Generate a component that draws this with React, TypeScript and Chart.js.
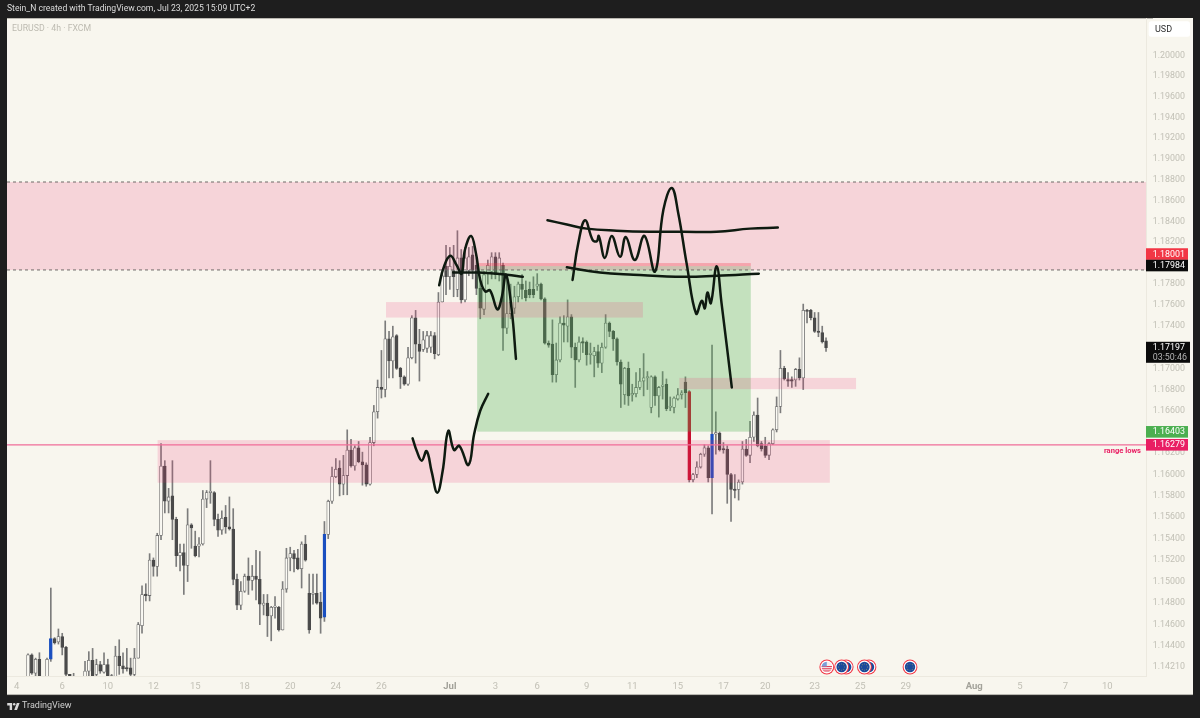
import React, { useEffect, useRef } from "react";
import { Chart, registerables } from "chart.js";

Chart.register(...registerables);

const opens = [
1.1400,1.1432,1.1415,1.1428,1.1405,1.1405,1.1428,1.1447,1.1444,1.1449,
1.1439,1.1414,1.1405,1.1405,1.1398,1.1402,1.1417,1.1427,1.1414,1.1423,
1.1416,1.1423,1.1408,1.1412,1.1431,1.1422,1.1420,1.1420,1.1414,1.1429,
1.1459,1.1488,1.1487,1.1520,1.1514,1.1543,1.1608,1.1575,1.1580,1.1558,
1.1524,1.1527,1.1515,1.1553,1.1533,1.1533,1.1535,1.1577,1.1583,1.1583,
1.1558,1.1548,1.1560,1.1551,1.1549,1.1502,1.1478,1.1491,1.1505,1.1501,
1.1505,1.1502,1.1478,1.1480,1.1468,1.1476,1.1476,1.1455,1.1493,1.1522,
1.1526,1.1522,1.1512,1.1535,1.1489,1.1488,1.1489,1.1481,1.1467,1.1544,
1.1575,1.1598,1.1606,1.1591,1.1599,1.1623,1.1608,1.1625,1.1612,1.1609,
1.1591,1.1630,1.1659,1.1682,1.1680,1.1728,1.1707,1.1731,1.1700,1.1692,
1.1685,1.1710,1.1748,1.1723,1.1718,1.1719,1.1720,1.1731,1.1713,1.1763,
1.1797,1.1787,1.1793,1.1775,1.1805,1.1765,1.1793,1.1808,1.1798,1.1776,
1.1756,1.1790,1.1792,1.1806,1.1789,1.1798,1.1738,1.1752,1.1757,1.1768,
1.1780,1.1774,1.1775,1.1775,1.1778,1.1780,1.1766,1.1724,1.1723,1.1694,
1.1708,1.1743,1.1740,1.1749,1.1720,1.1708,1.1725,1.1725,1.1713,1.1712,
1.1716,1.1705,1.1720,1.1743,1.1735,1.1728,1.1706,1.1675,1.1700,1.1675,
1.1676,1.1682,1.1688,1.1691,1.1663,1.1692,1.1674,1.1683,1.1685,1.1663,
1.1663,1.1671,1.1675,1.1687,1.1678,1.1595,1.1600,1.1607,1.1619,1.1625,
1.1597,1.1638,1.1639,1.1624,1.1624,1.1600,1.1586,1.1586,1.1593,1.1624,
1.1618,1.1635,1.1656,1.1629,1.1627,1.1618,1.1629,1.1642,1.1664,1.1700,
1.1689,1.1689,1.1689,1.1699,1.1691,1.1755,1.1755,1.1748,1.1735,1.1734,1.1726,
];
const highs = [
1.1433,1.1433,1.1429,1.1434,1.1409,1.1429,1.1494,1.1448,1.1456,1.1452,
1.1440,1.1414,1.1415,1.1408,1.1408,1.1426,1.1435,1.1438,1.1428,1.1426,
1.1434,1.1428,1.1414,1.1440,1.1446,1.1434,1.1438,1.1429,1.1438,1.1462,
1.1496,1.1498,1.1526,1.1522,1.1545,1.1629,1.1613,1.1587,1.1613,1.1560,
1.1535,1.1535,1.1568,1.1554,1.1547,1.1541,1.1585,1.1585,1.1613,1.1584,
1.1563,1.1566,1.1571,1.1579,1.1568,1.1507,1.1500,1.1507,1.1522,1.1515,
1.1529,1.1528,1.1488,1.1488,1.1477,1.1486,1.1477,1.1500,1.1531,1.1532,
1.1529,1.1530,1.1537,1.1543,1.1507,1.1507,1.1507,1.1490,1.1556,1.1576,
1.1607,1.1615,1.1613,1.1618,1.1642,1.1633,1.1627,1.1631,1.1621,1.1611,
1.1635,1.1665,1.1689,1.1717,1.1745,1.1735,1.1740,1.1732,1.1701,1.1693,
1.1720,1.1750,1.1755,1.1737,1.1735,1.1735,1.1735,1.1734,1.1772,1.1790,
1.1817,1.1815,1.1817,1.1831,1.1813,1.1815,1.1815,1.1816,1.1805,1.1784,
1.1792,1.1803,1.1810,1.1810,1.1810,1.1800,1.1789,1.1780,1.1778,1.1782,
1.1789,1.1783,1.1782,1.1787,1.1790,1.1781,1.1767,1.1726,1.1746,1.1724,
1.1749,1.1750,1.1765,1.1751,1.1724,1.1730,1.1729,1.1726,1.1724,1.1720,
1.1722,1.1724,1.1751,1.1744,1.1736,1.1729,1.1708,1.1701,1.1706,1.1685,
1.1696,1.1700,1.1714,1.1697,1.1693,1.1693,1.1683,1.1697,1.1690,1.1673,
1.1673,1.1681,1.1679,1.1692,1.1679,1.1601,1.1612,1.1620,1.1628,1.1627,
1.1722,1.1659,1.1640,1.1630,1.1627,1.1601,1.1600,1.1595,1.1631,1.1633,
1.1650,1.1659,1.1672,1.1631,1.1635,1.1630,1.1643,1.1673,1.1717,1.1702,
1.1696,1.1692,1.1700,1.1710,1.1761,1.1756,1.1756,1.1753,1.1753,1.1740,1.1729,
];
const lows = [
1.1395,1.1414,1.1409,1.1404,1.1395,1.1400,1.1426,1.1442,1.1442,1.1432,
1.1412,1.1407,1.1400,1.1395,1.1394,1.1398,1.1411,1.1403,1.1409,1.1415,
1.1415,1.1405,1.1402,1.1405,1.1414,1.1415,1.1417,1.1410,1.1409,1.1429,
1.1452,1.1482,1.1482,1.1505,1.1505,1.1539,1.1564,1.1564,1.1539,1.1514,
1.1510,1.1488,1.1500,1.1531,1.1523,1.1523,1.1534,1.1569,1.1573,1.1552,
1.1542,1.1544,1.1545,1.1548,1.1497,1.1474,1.1474,1.1490,1.1488,1.1492,
1.1483,1.1460,1.1469,1.1449,1.1445,1.1466,1.1454,1.1455,1.1490,1.1510,
1.1509,1.1511,1.1494,1.1519,1.1452,1.1479,1.1479,1.1452,1.1463,1.1540,
1.1573,1.1597,1.1580,1.1581,1.1581,1.1607,1.1604,1.1611,1.1590,1.1589,
1.1590,1.1627,1.1653,1.1672,1.1673,1.1691,1.1691,1.1699,1.1681,1.1684,
1.1684,1.1709,1.1705,1.1688,1.1716,1.1715,1.1715,1.1709,1.1712,1.1763,
1.1770,1.1775,1.1768,1.1768,1.1762,1.1763,1.1788,1.1785,1.1770,1.1747,
1.1751,1.1780,1.1785,1.1785,1.1783,1.1717,1.1733,1.1747,1.1752,1.1763,
1.1766,1.1764,1.1767,1.1767,1.1774,1.1765,1.1723,1.1720,1.1687,1.1687,
1.1706,1.1725,1.1725,1.1710,1.1682,1.1706,1.1715,1.1703,1.1704,1.1692,
1.1701,1.1696,1.1719,1.1730,1.1717,1.1703,1.1663,1.1666,1.1665,1.1669,
1.1673,1.1680,1.1674,1.1680,1.1658,1.1665,1.1654,1.1671,1.1660,1.1660,
1.1658,1.1670,1.1671,1.1663,1.1593,1.1593,1.1597,1.1606,1.1617,1.1593,
1.1563,1.1619,1.1622,1.1620,1.1573,1.1556,1.1578,1.1576,1.1591,1.1617,
1.1611,1.1631,1.1626,1.1622,1.1616,1.1614,1.1628,1.1640,1.1658,1.1689,
1.1683,1.1682,1.1683,1.1689,1.1680,1.1743,1.1746,1.1734,1.1730,1.1724,1.1716,
];
const closes = [
1.1432,1.1415,1.1428,1.1409,1.1400,1.1428,1.1447,1.1443,1.1449,1.1439,
1.1414,1.1412,1.1409,1.1400,1.1404,1.1417,1.1427,1.1408,1.1423,1.1417,
1.1423,1.1410,1.1413,1.1431,1.1422,1.1419,1.1419,1.1414,1.1429,1.1460,
1.1488,1.1487,1.1520,1.1514,1.1543,1.1608,1.1575,1.1579,1.1558,1.1524,
1.1527,1.1515,1.1553,1.1550,1.1524,1.1535,1.1577,1.1583,1.1584,1.1558,
1.1548,1.1559,1.1551,1.1549,1.1502,1.1478,1.1491,1.1505,1.1501,1.1505,
1.1502,1.1479,1.1480,1.1468,1.1476,1.1477,1.1455,1.1493,1.1522,1.1526,
1.1521,1.1512,1.1535,1.1520,1.1455,1.1489,1.1480,1.1466,1.1544,1.1575,
1.1598,1.1605,1.1591,1.1599,1.1623,1.1608,1.1625,1.1612,1.1609,1.1591,
1.1630,1.1659,1.1682,1.1680,1.1728,1.1707,1.1730,1.1700,1.1692,1.1685,
1.1710,1.1748,1.1723,1.1716,1.1727,1.1731,1.1731,1.1714,1.1763,1.1788,
1.1787,1.1797,1.1787,1.1805,1.1765,1.1805,1.1806,1.1793,1.1776,1.1757,
1.1789,1.1798,1.1806,1.1789,1.1805,1.1738,1.1752,1.1763,1.1768,1.1780,
1.1775,1.1767,1.1770,1.1770,1.1780,1.1766,1.1724,1.1722,1.1694,1.1708,
1.1743,1.1741,1.1749,1.1720,1.1708,1.1725,1.1724,1.1713,1.1714,1.1716,
1.1705,1.1720,1.1743,1.1735,1.1728,1.1706,1.1685,1.1700,1.1674,1.1676,
1.1682,1.1688,1.1691,1.1692,1.1692,1.1674,1.1682,1.1684,1.1662,1.1664,
1.1672,1.1675,1.1677,1.1677,1.1595,1.1600,1.1607,1.1619,1.1625,1.1597,
1.1638,1.1639,1.1623,1.1623,1.1600,1.1586,1.1585,1.1593,1.1624,1.1618,
1.1635,1.1656,1.1627,1.1624,1.1618,1.1629,1.1642,1.1664,1.1700,1.1690,
1.1688,1.1688,1.1699,1.1691,1.1755,1.1754,1.1748,1.1735,1.1734,1.1725,1.17197,
];

const blueCandles = [6, 78, 180];
const redCandles = [174];

const priceTicks = [
1.2,1.198,1.196,1.194,1.192,1.19,1.188,1.186,1.184,1.182,1.178,1.176,1.174,
1.17,1.168,1.166,1.162,1.16,1.158,1.156,1.154,1.152,1.15,1.148,1.146,1.144,1.1421,
];
const dateTickIndex = [-3,9,21,33,44,57,69,81,93,111,123,134,147,159,171,183,194,207,219,231,249,261,273,284];
const dateTickLabels = ["4","6","10","12","15","18","20","24","26","Jul","3","6","9","11","15","17","20","23","25","29","Aug","5","7","10"];

const xMin = -5.53;
const xMax = 294.2;
const yMin = 1.14125;
const yMax = 1.20363;

// [from index, to index, upper price, lower price]
const greenZone = [118.2, 190.2, 1.17972, 1.16403];
const riskZone = [118.2, 190.2, 1.18001, 1.17972];
const pinkZones = [
  [xMin, xMax, 1.18777, 1.17935],
  [94.2, 161.8, 1.17629, 1.17482],
  [34.1, 211, 1.16323, 1.15923],
  [171.4, 217.9, 1.1691, 1.16804],
];
const dashedLevels = [1.18777, 1.17935];
const rangeLow = 1.16279;

const strokeA = [[101.2,1.1634],[102.3,1.1622],[103.6,1.1613],[104.9,1.1622],[106.2,1.1603],[107.7,1.1583],[109.1,1.1603],[110.6,1.1641],[112.1,1.1623],[113.5,1.1627],[115.9,1.1609],[117.4,1.1638],[119,1.166],[121.1,1.1676]];
const strokeB = [[108.2,1.1779],[109.3,1.1795],[111.1,1.1807],[112.8,1.1798],[114.1,1.179],[115,1.1813],[116.6,1.1826],[117.9,1.1809],[119,1.1784],[120.3,1.1773],[121.6,1.1774],[123.5,1.1756],[124.7,1.1768],[125.8,1.1789],[127.3,1.1755],[128.4,1.1709]];
const strokeC = [[111.9,1.1791],[118.3,1.1791],[126,1.1789],[130.2,1.1787]];
const strokeD = [[136.7,1.1841],[141.8,1.1837],[147,1.1833],[154.9,1.1831],[163.7,1.183],[172.5,1.183],[181.2,1.183],[190,1.1833],[197.3,1.1834]];
const strokeE = [[141.8,1.1796],[150.5,1.1791],[159.3,1.1789],[172.5,1.1787],[181.2,1.1788],[192.3,1.179]];
const strokeF = [[143.3,1.1784],[144.8,1.1819],[146.6,1.1841],[148.6,1.1822],[149.7,1.1821],[150.2,1.1826],[151.8,1.1805],[153.6,1.1826],[155.8,1.1806],[157.3,1.1825],[159.7,1.1803],[162.2,1.1826],[165,1.1792],[167.2,1.1851],[169.4,1.1872],[171.1,1.1848],[173.3,1.18],[175.8,1.1752],[177.3,1.1764],[178.1,1.1757],[178.8,1.1772],[179.7,1.1762],[181.2,1.1797],[182.5,1.1762],[185.2,1.1682]];
const strokes = [strokeA, strokeB, strokeC, strokeD, strokeE, strokeF];

const priceTags = [
  { text: "1.18001", price: 1.18001, nudge: -9, fill: "#f23645" },
  { text: "1.17984", price: 1.17984, nudge: 0.7, fill: "#0b0b0b" },
  { text: "1.16403", price: 1.16403, nudge: 0.2, fill: "#4caf50" },
  { text: "1.16279", price: 1.16279, nudge: 0, fill: "#e91e63" },
];
const lastPrice = { text: "1.17197", countdown: "03:50:46", price: 1.17197 };

const eventsBack = [215.3, 221.3];
const eventsEu = [214.1, 220.1, 232.1];
const eventsUs = [210.2];

const FONT = "Roboto, 'Liberation Sans', sans-serif";
const CREAM = "#f8f6ee";

const framePlugin = {
  id: "frame",
  beforeDraw(chart: any) {
    const c = chart.ctx;
    c.save();
    c.fillStyle = "#1e1e1e";
    c.fillRect(0, 0, 1200, 718);
    c.fillStyle = CREAM;
    c.fillRect(7, 18, 1186, 677);
    c.fillStyle = "#8f8e88";
    c.fillRect(7, 694.4, 1186, 0.7);
    c.fillRect(7, 18, 1146, 0.6);
    c.restore();
  },
  afterDatasetDraw(chart: any, args: any) {
    if (args.index !== 1) return;
    const c = chart.ctx;
    const xs = chart.scales.x;
    const ys = chart.scales.y;
    const area = chart.chartArea;
    const box = (z: number[], fill: string) => {
      const x0 = xs.getPixelForValue(z[0]);
      const x1 = xs.getPixelForValue(z[1]);
      const y0 = ys.getPixelForValue(z[2]);
      const y1 = ys.getPixelForValue(z[3]);
      c.fillStyle = fill;
      c.fillRect(x0, y0, x1 - x0, y1 - y0);
    };
    c.save();
    c.beginPath();
    c.rect(area.left, area.top, area.right - area.left, area.bottom - area.top);
    c.clip();
    box(greenZone, "rgba(76,175,80,0.3)");
    pinkZones.forEach((z) => box(z, "rgba(236,46,114,0.17)"));
    box(riskZone, "rgba(242,54,69,0.3)");
    c.strokeStyle = "#6f6a68";
    c.lineWidth = 1;
    c.setLineDash([3, 3]);
    dashedLevels.forEach((p) => {
      const y = ys.getPixelForValue(p);
      c.beginPath();
      c.moveTo(area.left, y);
      c.lineTo(area.right, y);
      c.stroke();
    });
    c.setLineDash([]);
    c.strokeStyle = "#f06c98";
    c.lineWidth = 1.2;
    const ry = ys.getPixelForValue(rangeLow);
    c.beginPath();
    c.moveTo(area.left, ry);
    c.lineTo(area.right, ry);
    c.stroke();
    c.restore();
  },
  afterDraw(chart: any) {
    const c = chart.ctx;
    const xs = chart.scales.x;
    const ys = chart.scales.y;
    const area = chart.chartArea;
    c.save();
    c.textBaseline = "middle";
    c.textAlign = "left";
    c.font = `8.75px ${FONT}`;
    c.fillStyle = "#bdbbb1";
    c.fillText("EURUSD · 4h · FXCM", 12, 29);

    c.fillStyle = "#ffffff";
    c.beginPath();
    c.roundRect(1148.7, 21.3, 41.3, 15.4, 2.5);
    c.fill();
    c.fillStyle = "#2f2f2f";
    c.font = `9px ${FONT}`;
    c.fillText("USD", 1155, 29.3);

    c.textAlign = "right";
    c.fillStyle = "#e91e63";
    c.font = `bold 7.6px ${FONT}`;
    c.fillText("range lows", 1141, 451);

    c.textAlign = "left";
    priceTags.forEach((t) => {
      const y = ys.getPixelForValue(t.price) + t.nudge;
      c.fillStyle = t.fill;
      c.fillRect(area.right, y - 5.8, 42, 11.6);
      c.fillStyle = "#ffffff";
      c.font = `8.9px ${FONT}`;
      c.fillText(t.text, 1152.7, y + 0.3);
    });
    const ly = ys.getPixelForValue(lastPrice.price) + 4.7;
    c.fillStyle = "#0b0b0b";
    c.fillRect(area.right, ly - 10.5, 44, 21);
    c.fillStyle = "#ffffff";
    c.font = `8.9px ${FONT}`;
    c.fillText(lastPrice.text, 1152.7, ly - 5);
    c.fillStyle = "#b5b5b5";
    c.fillText(lastPrice.countdown, 1152.7, ly + 5);

    const cy = 667;
    const ring = (x: number, fill: string) => {
      c.fillStyle = "#f23645";
      c.beginPath();
      c.arc(x, cy, 7.4, 0, Math.PI * 2);
      c.fill();
      c.fillStyle = "#ffffff";
      c.beginPath();
      c.arc(x, cy, 6.4, 0, Math.PI * 2);
      c.fill();
      c.fillStyle = fill;
      c.beginPath();
      c.arc(x, cy, 5.2, 0, Math.PI * 2);
      c.fill();
    };
    eventsBack.forEach((v) => ring(xs.getPixelForValue(v), "#1a4a9c"));
    eventsUs.forEach((v) => {
      const x = xs.getPixelForValue(v);
      ring(x, "#f4f0f0");
      c.save();
      c.beginPath();
      c.arc(x, cy, 5.2, 0, Math.PI * 2);
      c.clip();
      c.fillStyle = "#e0405a";
      for (let i = 0; i < 3; i++) c.fillRect(x - 6, cy - 1 + i * 2.2, 12, 1.1);
      c.fillStyle = "#7b9fd8";
      c.fillRect(x - 6, cy - 6, 6, 5.5);
      c.restore();
    });
    eventsEu.forEach((v) => {
      const x = xs.getPixelForValue(v);
      ring(x, "#1a4a9c");
      c.fillStyle = "#d8c24a";
      for (let i = 0; i < 8; i++) {
        const a = (i / 8) * Math.PI * 2;
        c.beginPath();
        c.arc(x + Math.cos(a) * 3.1, cy + Math.sin(a) * 3.1, 0.45, 0, Math.PI * 2);
        c.fill();
      }
    });
    c.restore();
  },
};

export default function App() {
  const ref = useRef<HTMLCanvasElement | null>(null);

  useEffect(() => {
    document.body.style.margin = "0";
    const isUp = (i: number) => closes[i] >= opens[i];
    const bodyColor = (i: number) => {
      if (blueCandles.includes(i)) return "#1a4fc0";
      if (redCandles.includes(i)) return "#c8102e";
      return isUp(i) ? "#fbfaf4" : "#4a4a4a";
    };
    const edgeColor = (i: number) => {
      if (blueCandles.includes(i)) return "#1a4fc0";
      if (redCandles.includes(i)) return "#c8102e";
      return isUp(i) ? "#6e6e6e" : "#4a4a4a";
    };
    const chart = new Chart(ref.current as HTMLCanvasElement, {
      type: "bar",
      plugins: [framePlugin],
      data: {
        datasets: [
          {
            label: "wicks",
            order: 5,
            grouped: false,
            barThickness: 1,
            backgroundColor: "#7c7c7c",
            borderWidth: 0,
            data: highs.map((h, i) => ({ x: i, y: [lows[i], h] })),
          },
          {
            label: "bodies",
            order: 4,
            grouped: false,
            barThickness: 2.9,
            minBarLength: 1.4,
            backgroundColor: opens.map((_, i) => bodyColor(i)),
            borderColor: opens.map((_, i) => edgeColor(i)),
            borderWidth: 0.8,
            borderSkipped: false,
            data: opens.map((o, i) => ({ x: i, y: [Math.min(o, closes[i]), Math.max(o, closes[i])] })),
          },
          ...strokes.map((s, k) => ({
            type: "line" as const,
            label: `stroke${k}`,
            order: 1,
            data: s.map((p) => ({ x: p[0], y: p[1] })),
            borderColor: "#0e1a10",
            borderWidth: 2.5,
            borderCapStyle: "round" as const,
            borderJoinStyle: "round" as const,
            tension: 0.42,
            pointRadius: 0,
            fill: false,
          })),
        ],
      } as any,
      options: {
        responsive: false,
        animation: false,
        events: [],
        layout: { padding: { left: 7, right: 8, top: 18, bottom: 24 } },
        plugins: { legend: { display: false }, tooltip: { enabled: false }, title: { display: false } },
        scales: {
          x: {
            type: "linear",
            offset: false,
            min: xMin,
            max: xMax,
            grid: { display: false, drawTicks: false },
            border: { display: true, color: "#ece9df" },
            afterBuildTicks(s: any) {
              s.ticks = dateTickIndex.map((v) => ({ value: v }));
            },
            afterFit(s: any) {
              s.height = 18;
            },
            ticks: {
              autoSkip: false,
              maxRotation: 0,
              padding: 5,
              color: (ctx: any) => (/[A-Z]/.test(dateTickLabels[ctx.index] || "") ? "#a3a29a" : "#c2c0b6"),
              font: (ctx: any) => ({
                family: FONT,
                size: 9.5,
                weight: /[A-Z]/.test(dateTickLabels[ctx.index] || "") ? "bold" : "normal",
              }),
              callback: (_v: any, i: number) => dateTickLabels[i],
            },
          },
          y: {
            type: "logarithmic",
            position: "right",
            bounds: "data",
            min: yMin,
            max: yMax,
            grid: { display: false, drawTicks: false },
            border: { display: true, color: "#ece9df" },
            afterBuildTicks(s: any) {
              s.ticks = priceTicks.map((v) => ({ value: v }));
              s.min = yMin;
              s.max = yMax;
            },
            afterFit(s: any) {
              s.width = 46;
            },
            ticks: {
              autoSkip: false,
              padding: 6.7,
              color: "#c2c0b6",
              font: { family: FONT, size: 8.9 },
              callback: (v: any) => Number(v).toFixed(5),
            },
          },
        },
      } as any,
    });
    return () => chart.destroy();
  }, []);

  return (
    <div style={{ position: "absolute", left: 0, top: 0, width: 1200, height: 718, background: "#1e1e1e", overflow: "hidden" }}>
      <canvas ref={ref} width={1200} height={718} style={{ display: "block", width: 1200, height: 718 }} />
      <div style={{ position: "absolute", left: 7, top: 3, height: 14, lineHeight: "14px", color: "#dcdcdc", font: `8.6px ${FONT}`, whiteSpace: "nowrap" }}>
        Stein_N created with TradingView.com, Jul 23, 2025 15:09 UTC+2
      </div>
      <svg style={{ position: "absolute", left: 7, top: 702.5 }} width={13} height={7} viewBox="0 0 36 20" fill="#d8d8d8">
        <path d="M14 0H0v7h7v13h7zM28 20h-8L27.5 0h8z" />
        <circle cx="20" cy="3.6" r="3.6" />
      </svg>
      <div style={{ position: "absolute", left: 22, top: 699.5, height: 14, lineHeight: "14px", color: "#cfcfcf", font: `9px ${FONT}`, whiteSpace: "nowrap" }}>
        TradingView
      </div>
    </div>
  );
}
